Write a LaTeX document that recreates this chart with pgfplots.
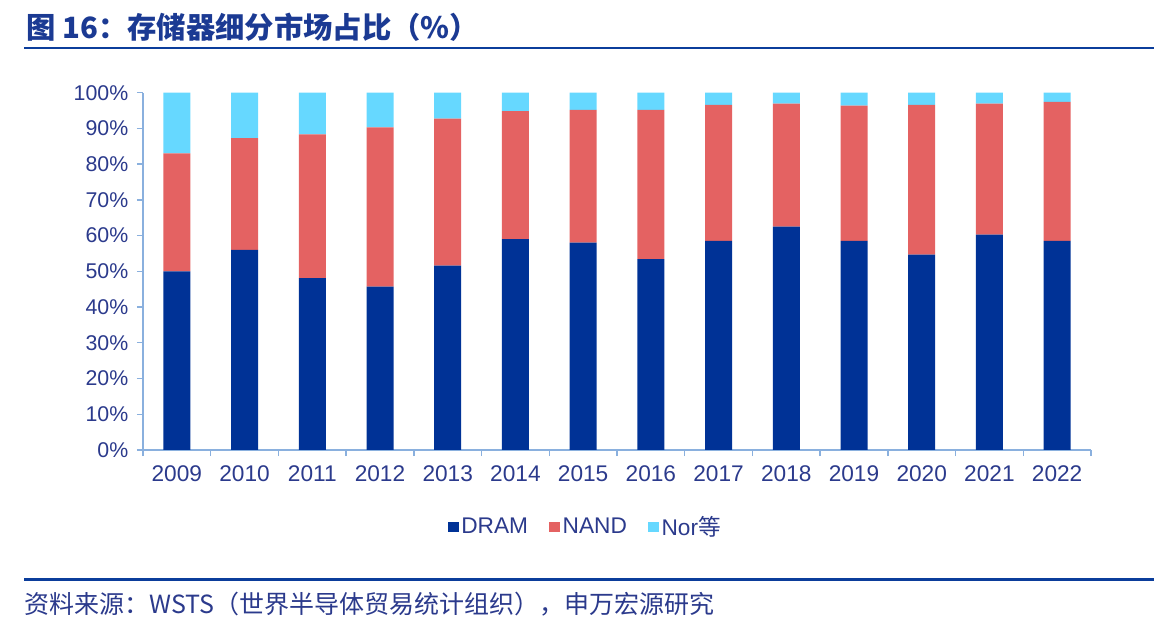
\documentclass[border=0pt]{standalone}
\usepackage{pgfplots}
\pgfplotsset{compat=1.18}
\usepackage{pgfplotstable}
\usepackage{fontspec}
\setmainfont{Liberation Sans}
\newfontfamily\cjk{Noto Sans CJK SC}

\definecolor{dramblue}{HTML}{003296}
\definecolor{nandred}{HTML}{E46262}
\definecolor{norcyan}{HTML}{66D8FF}
\definecolor{axisblue}{HTML}{8AB0DE}
\definecolor{labelblue}{HTML}{2B3A8C}
\definecolor{titleblue}{HTML}{1B3A93}
\definecolor{ruleblue}{HTML}{0B3D9B}

% memory market share by segment, percent
\pgfplotstableread{
x year DRAM NAND Nor
0  2009 50.0 33.0 17.0
1  2010 56.0 31.3 12.7
2  2011 48.1 40.2 11.7
3  2012 45.7 44.6  9.7
4  2013 51.6 41.1  7.3
5  2014 59.0 35.8  5.2
6  2015 58.0 37.2  4.8
7  2016 53.4 41.8  4.8
8  2017 58.5 38.1  3.4
9  2018 62.5 34.4  3.1
10 2019 58.5 37.9  3.6
11 2020 54.7 41.9  3.4
12 2021 60.3 36.6  3.1
13 2022 58.5 38.9  2.6
}\share

\begin{document}
\begin{tikzpicture}[x=1pt,y=1pt]
\useasboundingbox (0,0) rectangle (865.5,477);
% heading and rules
\node[anchor=base west, inner sep=0pt, text=titleblue]
  at (19.5,448) {\cjk\bfseries\fontsize{22}{26}\selectfont 图 16：存储器细分市场占比（\%）};
\draw[ruleblue, line width=2pt] (18,441) -- (865.5,441);
\draw[ruleblue, line width=2pt] (18,42.4) -- (865.5,42.4);
\node[anchor=west, inner sep=0pt, text=labelblue]
  at (18,24) {\cjk\fontsize{18.75}{22}\selectfont 资料来源：WSTS（世界半导体贸易统计组织），申万宏源研究};

\begin{axis}[
  at={(107.25pt,139.5pt)}, anchor=south west,
  scale only axis, width=711pt, height=268pt,
  ybar stacked, bar width=20.25pt,
  xmin=-0.5, xmax=13.5, ymin=0, ymax=100,
  axis lines*=left,
  axis line style={-, draw=axisblue, line width=1pt},
  tick align=outside,
  xtick={0,...,13},
  xticklabels={2009,2010,2011,2012,2013,2014,2015,2016,2017,2018,2019,2020,2021,2022},
  major x tick style={draw=none},
  minor xtick={-0.5,0.5,...,13.5},
  minor tick length=4.5pt,
  major tick length=4.5pt,
  every tick/.style={draw=axisblue, line width=1pt},
  ytick={0,10,...,100},
  yticklabel={\pgfmathprintnumber{\tick}\%},
  /pgf/number format/assume math mode=true,
  yticklabel style={text=labelblue, font=\fontsize{16}{18}\selectfont, xshift=-3pt},
  xticklabel style={text=labelblue, font=\fontsize{17}{20}\selectfont, yshift=-4pt},
  legend columns=3,
  legend style={draw=none, fill=none, at={(0.467,-0.2155)}, anchor=center,
    font=\fontsize{17}{20}\selectfont, text=labelblue,
    /tikz/every even column/.append style={column sep=14pt}},
  legend image code/.code={\fill[#1] (0pt,-4pt) rectangle (8pt,4pt);},
  clip=false,
]
\addplot[fill=dramblue, draw=none] table[x=x, y=DRAM] {\share};
\addplot[fill=nandred, draw=none] table[x=x, y=NAND] {\share};
\addplot[fill=norcyan, draw=none] table[x=x, y=Nor] {\share};
\legend{DRAM, NAND, Nor{\cjk 等}}
\end{axis}
\end{tikzpicture}
\end{document}
